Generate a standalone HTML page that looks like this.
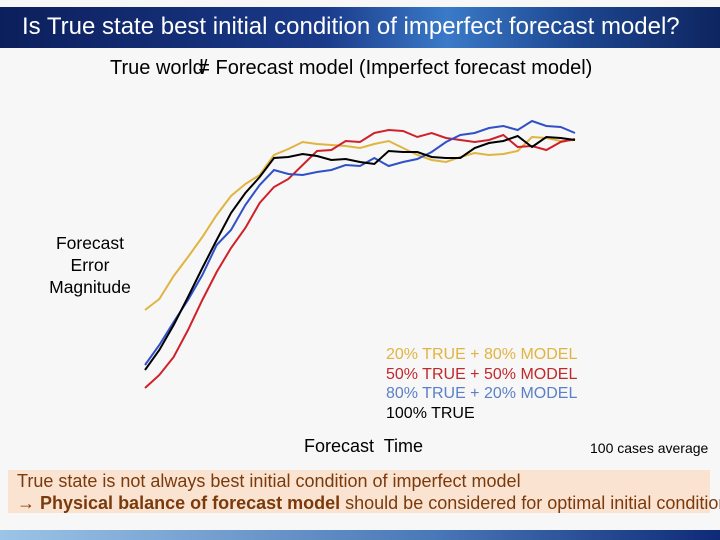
<!DOCTYPE html>
<html><head><meta charset="utf-8"><style>
body{margin:0;width:720px;height:540px;overflow:hidden;background:#f7f7f7;font-family:"Liberation Sans",sans-serif;position:relative}
.t{position:absolute;white-space:nowrap}
</style></head><body>
<div style="position:absolute;left:0;top:7px;width:720px;height:41px;background:linear-gradient(90deg,#0c1f5c 0%,#1a3a8a 45%,#3a7ac8 62%,#1d4690 80%,#0e2560 100%)"></div>
<div class="t" style="left:22px;top:13px;font-size:24px;color:#fff">Is True state best initial condition of imperfect forecast model?</div>
<div class="t" style="left:110px;top:57px;font-size:20px;color:#000">True world<span style="margin-left:-2px">/</span><span style="margin-left:-9px">=</span> Forecast model (Imperfect forecast model)</div>
<div class="t" style="left:40px;top:232px;width:100px;text-align:center;font-size:17.5px;line-height:22px;color:#000">Forecast<br>Error<br>Magnitude</div>
<svg id="chart" width="720" height="540" style="position:absolute;left:0;top:0"></svg>
<div class="t" style="left:386px;top:345px;font-size:16px;line-height:19.5px">
<div style="color:#e0b440">20% TRUE + 80% MODEL</div>
<div style="color:#c0282c">50% TRUE + 50% MODEL</div>
<div style="color:#5b80c8">80% TRUE + 20% MODEL</div>
<div style="color:#000">100% TRUE</div>
</div>
<div class="t" style="left:304px;top:436px;font-size:18px">Forecast&nbsp; Time</div>
<div class="t" style="left:590px;top:440px;font-size:14px">100 cases average</div>
<div style="position:absolute;left:8px;top:470px;width:702px;height:43px;background:#fbe3d2"></div>
<div class="t" style="left:17px;top:471px;font-size:18px;color:#7a3a0c">True state is not always best initial condition of imperfect model</div>
<div class="t" style="left:17px;top:493px;font-size:18px;color:#7a3a0c">→ <b>Physical balance of forecast model</b> should be considered for optimal initial condition</div>
<div style="position:absolute;left:0;top:530px;width:720px;height:10px;background:linear-gradient(90deg,#9cc4e6,#4a78b8 60%,#0e2a78)"></div>
<script>
const steps = [0,1,2,3,4,5,6,7,8,9,10,11,12,13,14,15,16,17,18,19,20,21,22,23,24,25,26,27,28,29,30];
const yellow = [90,101,124,143,163,185,204,216,225,245,251,258,256,255,254,252,256,259,252,245,240,238,243,247,245,246,249,263,262,259,260];
const black = [30,50,75,103,132,160,187,207,223,242,243,246,244,240,241,238,236,249,248,248,243,242,242,252,257,259,264,253,263,262,260];
const blue = [35,55,78,100,125,155,170,195,215,230,226,225,228,230,235,234,242,234,238,241,248,258,265,267,272,274,270,279,274,273,267];
const red = [12,25,43,70,100,128,152,172,197,213,221,235,249,250,259,258,267,270,269,263,267,262,260,258,260,265,253,254,250,258,261];
const svg=document.getElementById('chart');
const xs=i=>145+i*(430/30);
const ys=v=>400-v;
function draw(arr,color,name){
  const p=document.createElementNS('http://www.w3.org/2000/svg','polyline');
  p.setAttribute('points',arr.map((v,i)=>xs(steps[i])+','+ys(v)).join(' '));
  p.setAttribute('fill','none');p.setAttribute('stroke',color);p.setAttribute('stroke-width','2');
  
  
  svg.appendChild(p);
}
draw(yellow,'#e0b440','line-20-true');
draw(red,'#d0202a','line-50-true');
draw(blue,'#3050c8','line-80-true');
draw(black,'#000','line-100-true');
</script>
</body></html>
